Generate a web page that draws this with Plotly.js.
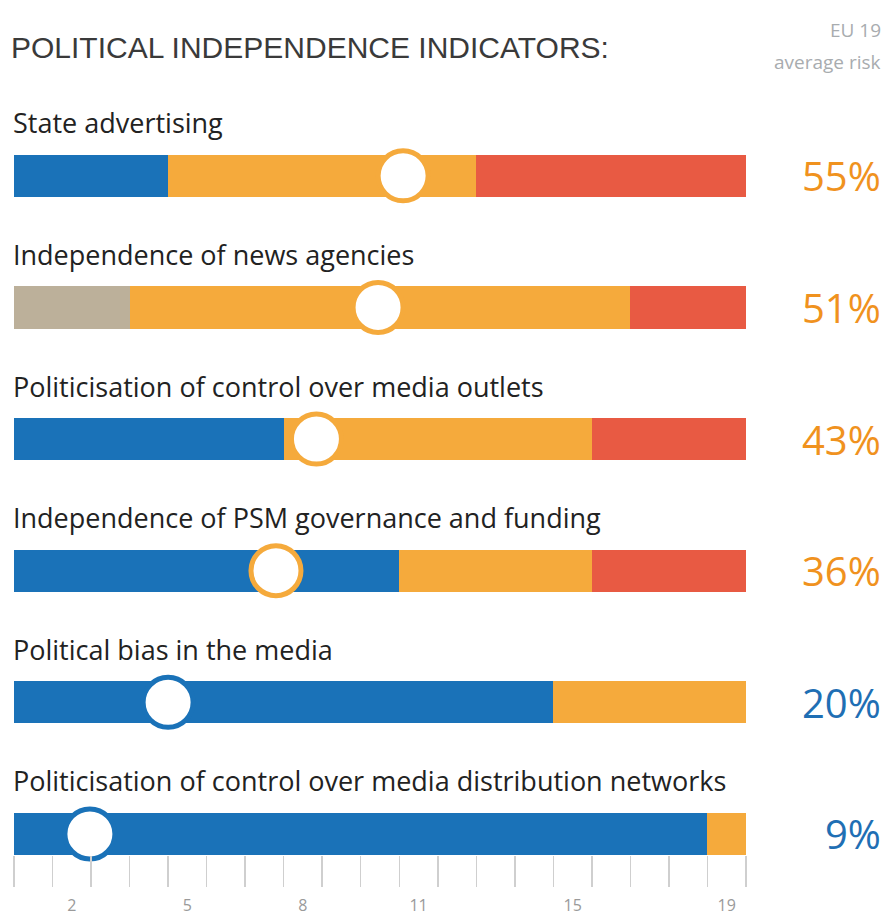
<!DOCTYPE html>
<html>
<head>
<meta charset="utf-8">
<script src="https://cdn.plot.ly/plotly-3.0.1.min.js"></script>
<style>html,body{margin:0;padding:0;background:#fff;}#chart{width:888px;height:915px;}</style>
</head>
<body>
<div id="chart"></div>
<script>
// ---- data ----
var indicators = [
  "State advertising",
  "Independence of news agencies",
  "Politicisation of control over media outlets",
  "Independence of PSM governance and funding",
  "Political bias in the media",
  "Politicisation of control over media distribution networks"
];
var lowRisk    = [4, 0, 7, 10, 14, 18];
var notApplic  = [0, 3, 0, 0, 0, 0];
var mediumRisk = [8, 13, 8, 5, 5, 1];
var highRisk   = [7, 3, 4, 4, 0, 0];
var avgRiskPct = [55, 51, 43, 36, 20, 9];
var avgMarkerPos = [10.1, 9.45, 7.85, 6.8, 4.0, 1.97];
var tickLabels = ["2", "5", "8", "11", "15", "19"];
var countryCount = 19;

// ---- styles ----
var BLUE = "#1a72b8", ORANGE = "#f5aa3c", RED = "#e85a43", GREY = "#bcb09a";
var PCT_ORANGE = "#f0921e", PCT_BLUE = "#1f6fb4";
function bandColor(p){ return p < 34 ? BLUE : ORANGE; }
function pctColor(p){ return p < 34 ? PCT_BLUE : PCT_ORANGE; }

function barTrace(vals, color, name){
  return {type:"bar", orientation:"h", x:vals, y:indicators, name:name,
          marker:{color:color, line:{width:0}}, width:0.32, hoverinfo:"skip"};
}
var traces = [
  barTrace(lowRisk, BLUE, "Low risk"),
  barTrace(notApplic, GREY, "N/A"),
  barTrace(mediumRisk, ORANGE, "Medium risk"),
  barTrace(highRisk, RED, "High risk"),
  {type:"scatter", mode:"markers", x:avgMarkerPos, y:indicators, hoverinfo:"skip", cliponaxis:false,
   marker:{size:50, color:"#ffffff", line:{width:5, color:avgRiskPct.map(bandColor)}}}
];

var minorVals = [];
for (var i = 0; i <= countryCount; i++) minorVals.push(i);
var labelVals = tickLabels.map(function(t){ return Number(t) - 0.5; });

var annotations = [];
indicators.forEach(function(name, i){
  annotations.push({xref:"paper", yref:"y", x:0, y:name, xanchor:"left", yanchor:"middle",
    xshift:-3, yshift:53, text:name, showarrow:false,
    font:{family:"Open Sans, sans-serif", size:27, color:"#222"}});
  annotations.push({xref:"paper", yref:"y", x:1.187, y:name, xanchor:"right", yanchor:"middle",
    text:avgRiskPct[i] + "%", showarrow:false,
    font:{family:"Open Sans, sans-serif", size:40, color:pctColor(avgRiskPct[i])}});
});
annotations.push({xref:"paper", yref:"paper", x:1.187, y:1.1074, xanchor:"right", yanchor:"middle",
  text:"EU 19", showarrow:false, font:{family:"Open Sans, sans-serif", size:19, color:"#a8acaf"}});
annotations.push({xref:"paper", yref:"paper", x:1.187, y:1.0644, xanchor:"right", yanchor:"middle",
  text:"average risk", showarrow:false, font:{family:"Open Sans, sans-serif", size:19, color:"#a8acaf"}});

var layout = {
  width:888, height:915,
  margin:{l:14, r:142, t:110, b:60},
  paper_bgcolor:"#fff", plot_bgcolor:"#fff",
  barmode:"stack", showlegend:false,
  title:{text:"POLITICAL INDEPENDENCE INDICATORS:", xref:"container", yref:"container",
    x:11/888, xanchor:"left", y:1-47/915, yanchor:"middle",
    font:{family:"Liberation Sans, Arial, sans-serif", size:30, color:"#3a3a3a"}},
  xaxis:{range:[0, countryCount], showgrid:false, zeroline:false, showline:false, fixedrange:true,
    tickmode:"array", tickvals:labelVals, ticktext:tickLabels,
    ticks:"outside", ticklen:36, tickcolor:"rgba(0,0,0,0)",
    tickfont:{family:"Open Sans, sans-serif", size:16, color:"#9a9a9a"},
    minor:{tickmode:"array", tickvals:minorVals, ticks:"outside", ticklen:31, tickwidth:1.5, tickcolor:"#cfcfcf", showgrid:false}},
  yaxis:{type:"category", range:[5.16, -0.5], showticklabels:false, showgrid:false,
    zeroline:false, showline:false, ticks:"", fixedrange:true},
  annotations:annotations
};
Plotly.newPlot("chart", traces, layout, {staticPlot:true, displayModeBar:false});
</script>
</body>
</html>
